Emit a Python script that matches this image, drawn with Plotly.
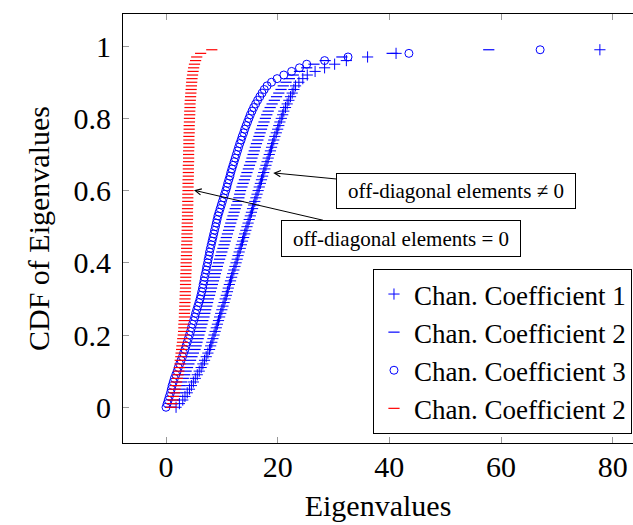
import plotly.graph_objects as go

# CDF levels (y values shared by all series)
cdf = [0.00, 0.01, 0.02, 0.03, 0.04, 0.05, 0.06, 0.07, 0.08, 0.09,
       0.10, 0.11, 0.12, 0.13, 0.14, 0.15, 0.16, 0.17, 0.18, 0.19,
       0.20, 0.21, 0.22, 0.23, 0.24, 0.25, 0.26, 0.27, 0.28, 0.29,
       0.30, 0.31, 0.32, 0.33, 0.34, 0.35, 0.36, 0.37, 0.38, 0.39,
       0.40, 0.41, 0.42, 0.43, 0.44, 0.45, 0.46, 0.47, 0.48, 0.49,
       0.50, 0.51, 0.52, 0.53, 0.54, 0.55, 0.56, 0.57, 0.58, 0.59,
       0.60, 0.61, 0.62, 0.63, 0.64, 0.65, 0.66, 0.67, 0.68, 0.69,
       0.70, 0.71, 0.72, 0.73, 0.74, 0.75, 0.76, 0.77, 0.78, 0.79,
       0.80, 0.81, 0.82, 0.83, 0.84, 0.85, 0.86, 0.87, 0.88, 0.89,
       0.90, 0.91, 0.92, 0.93, 0.94, 0.95, 0.96, 0.97, 0.98, 0.99]

# Eigenvalues, Chan. Coefficient 1 (+)
eig_coef1 = [1.8, 2.4, 3.0, 3.4, 3.8, 4.2, 4.55, 4.9, 5.25, 5.6,
             5.95, 6.3, 6.6, 6.9, 7.2, 7.5, 7.8, 8.0, 8.2, 8.4,
             8.6, 8.8, 9.0, 9.2, 9.4, 9.6, 9.8, 10.0, 10.2, 10.4,
             10.6, 10.8, 11.0, 11.15, 11.35, 11.55, 11.75, 11.95, 12.15, 12.35,
             12.55, 12.75, 12.9, 13.1, 13.3, 13.5, 13.7, 13.9, 14.1, 14.3,
             14.5, 14.7, 14.9, 15.1, 15.3, 15.5, 15.7, 15.9, 16.1, 16.3,
             16.5, 16.7, 16.9, 17.1, 17.3, 17.5, 17.7, 17.9, 18.1, 18.3,
             18.5, 18.7, 18.9, 19.1, 19.3, 19.5, 19.75, 20.0, 20.2, 20.4,
             20.65, 20.9, 21.1, 21.4, 21.7, 22.0, 22.3, 22.6, 22.9, 23.2,
             23.8, 24.5, 25.3, 26.7, 28.4, 30.2, 32.3, 36.1, 41.2, 77.7]

# Eigenvalues, Chan. Coefficient 2 (blue -)
eig_coef2 = [0.8, 1.1, 1.4, 1.7, 2.0, 2.3, 2.55, 2.8, 3.1, 3.35,
             3.6, 3.85, 4.1, 4.4, 4.65, 4.9, 5.2, 5.4, 5.55, 5.75,
             5.9, 6.1, 6.25, 6.45, 6.6, 6.8, 6.95, 7.1, 7.3, 7.45,
             7.6, 7.8, 7.95, 8.15, 8.3, 8.5, 8.7, 8.85, 9.05, 9.2,
             9.4, 9.6, 9.8, 10.0, 10.2, 10.4, 10.6, 10.8, 11.0, 11.2,
             11.4, 11.6, 11.8, 12.0, 12.2, 12.4, 12.65, 12.9, 13.05, 13.2,
             13.35, 13.6, 13.8, 14.05, 14.3, 14.5, 14.75, 14.95, 15.2, 15.4,
             15.6, 15.8, 16.0, 16.2, 16.45, 16.65, 16.85, 17.1, 17.3, 17.55,
             17.8, 18.05, 18.3, 18.65, 19.0, 19.4, 19.8, 20.2, 20.6, 21.0,
             21.5, 22.1, 22.8, 23.9, 25.2, 26.5, 28.5, 31.5, 40.5, 57.8]

# Eigenvalues, Chan. Coefficient 3 (o)
eig_coef3 = [0.0, 0.2, 0.4, 0.6, 0.8, 0.95, 1.1, 1.3, 1.5, 1.75,
             2.0, 2.2, 2.45, 2.7, 2.95, 3.15, 3.4, 3.6, 3.8, 4.0,
             4.2, 4.4, 4.55, 4.75, 4.95, 5.15, 5.3, 5.5, 5.7, 5.9,
             6.1, 6.25, 6.4, 6.55, 6.65, 6.8, 6.9, 7.05, 7.2, 7.3,
             7.45, 7.55, 7.7, 7.8, 7.95, 8.1, 8.25, 8.4, 8.55, 8.7,
             8.85, 9.0, 9.15, 9.3, 9.5, 9.7, 9.9, 10.1, 10.3, 10.5,
             10.7, 10.9, 11.05, 11.25, 11.45, 11.6, 11.8, 12.0, 12.2, 12.4,
             12.6, 12.8, 13.0, 13.2, 13.45, 13.65, 13.9, 14.1, 14.35, 14.6,
             14.85, 15.1, 15.4, 15.7, 16.05, 16.4, 16.8, 17.2, 17.6, 18.1,
             18.9, 19.9, 21.1, 22.5, 23.9, 25.2, 28.4, 32.6, 43.5, 67.0]

# Eigenvalues, off-diagonal elements = 0 (red -)
eig_diag = [1.0, 1.1, 1.25, 1.35, 1.5, 1.6, 1.75, 1.9, 2.05, 2.15,
            2.3, 2.4, 2.5, 2.55, 2.65, 2.7, 2.8, 2.85, 2.95, 3.0,
            3.1, 3.15, 3.2, 3.2, 3.25, 3.3, 3.3, 3.35, 3.35, 3.4,
            3.4, 3.45, 3.45, 3.5, 3.5, 3.5, 3.55, 3.55, 3.6, 3.6,
            3.6, 3.65, 3.65, 3.7, 3.7, 3.7, 3.75, 3.75, 3.75, 3.8,
            3.8, 3.8, 3.85, 3.85, 3.85, 3.85, 3.9, 3.9, 3.9, 3.9,
            3.95, 3.95, 3.95, 3.95, 4.0, 4.0, 4.0, 4.0, 4.05, 4.05,
            4.05, 4.05, 4.1, 4.1, 4.1, 4.1, 4.15, 4.15, 4.15, 4.2,
            4.2, 4.25, 4.25, 4.3, 4.3, 4.35, 4.4, 4.45, 4.5, 4.55,
            4.6, 4.65, 4.75, 4.85, 4.95, 5.1, 5.3, 5.5, 6.2, 8.2]

series_names = ["Chan. Coefficient 1", "Chan. Coefficient 2",
                "Chan. Coefficient 3", "Chan. Coefficient 2"]

x_ticks = [0, 20, 40, 60, 80]
y_ticks = [0, 0.2, 0.4, 0.6, 0.8, 1.0]
y_ticktext = ["0", "0.2", "0.4", "0.6", "0.8", "1"]

FONT = "Liberation Serif"
BLUE = "#0000ff"
RED = "#ff0000"

fig = go.Figure()
fig.add_trace(go.Scatter(x=eig_coef1, y=cdf, mode="markers", name=series_names[0],
                         marker=dict(symbol="cross-thin", size=8, color=BLUE,
                                     line=dict(color=BLUE, width=1.0))))
fig.add_trace(go.Scatter(x=eig_coef2, y=cdf, mode="markers", name=series_names[1],
                         marker=dict(symbol="line-ew", size=8, color=BLUE,
                                     line=dict(color=BLUE, width=1.2))))
fig.add_trace(go.Scatter(x=eig_coef3, y=cdf, mode="markers", name=series_names[2],
                         marker=dict(symbol="circle-open", size=8, color=BLUE,
                                     line=dict(color=BLUE, width=1.0))))
fig.add_trace(go.Scatter(x=eig_diag, y=cdf, mode="markers", name=series_names[3],
                         marker=dict(symbol="line-ew", size=8, color=RED,
                                     line=dict(color=RED, width=1.2))))

fig.add_annotation(x=19.2, y=0.649, ax=52.0, ay=0.600, axref="x", ayref="y",
                   text="off-diagonal elements ≠ 0", showarrow=True,
                   arrowhead=5, arrowsize=1.2, arrowwidth=1, arrowcolor="black",
                   font=dict(family=FONT, size=21, color="black"),
                   bordercolor="black", borderwidth=1, borderpad=1,
                   bgcolor="white", width=236, height=32)
fig.add_annotation(x=5.0, y=0.601, ax=42.0, ay=0.468, axref="x", ayref="y",
                   text="off-diagonal elements = 0", showarrow=True,
                   arrowhead=5, arrowsize=1.2, arrowwidth=1, arrowcolor="black",
                   font=dict(family=FONT, size=21, color="black"),
                   bordercolor="black", borderwidth=1, borderpad=1,
                   bgcolor="white", width=236, height=33)

fig.update_layout(
    width=633, height=525,
    margin=dict(l=123, r=0, t=14, b=82, autoexpand=False),
    paper_bgcolor="white", plot_bgcolor="white",
    font=dict(family=FONT, size=30, color="black"),
    showlegend=True,
    legend=dict(x=0.998, xanchor="right", y=0.021, yanchor="bottom",
                bordercolor="black", borderwidth=1, bgcolor="white",
                font=dict(family=FONT, size=27, color="black"),
                itemwidth=30, tracegroupgap=0),
    xaxis=dict(range=[-7.70, 83.63], tickvals=x_ticks, automargin=False,
               showline=True, linecolor="black", linewidth=1, mirror="allticks",
               ticks="inside", ticklen=6, tickcolor="#999999", tickwidth=1,
               ticklabelstandoff=-3,
               showgrid=False, zeroline=False,
               tickfont=dict(family=FONT, size=30),
               title=dict(text="Eigenvalues", font=dict(family=FONT, size=30), standoff=12)),
    yaxis=dict(range=[-0.099, 1.089], tickvals=y_ticks, ticktext=y_ticktext, automargin=False,
               showline=True, linecolor="black", linewidth=1, mirror=False,
               ticks="inside", ticklen=6, tickcolor="#999999", tickwidth=1,
               ticklabelstandoff=5,
               showgrid=False, zeroline=False,
               tickfont=dict(family=FONT, size=30),
               title=dict(text="CDF of Eigenvalues", font=dict(family=FONT, size=30), standoff=15)),
)

fig.write_html("out.html", config={"displayModeBar": False},
               post_script="document.body.style.margin='0px';")
